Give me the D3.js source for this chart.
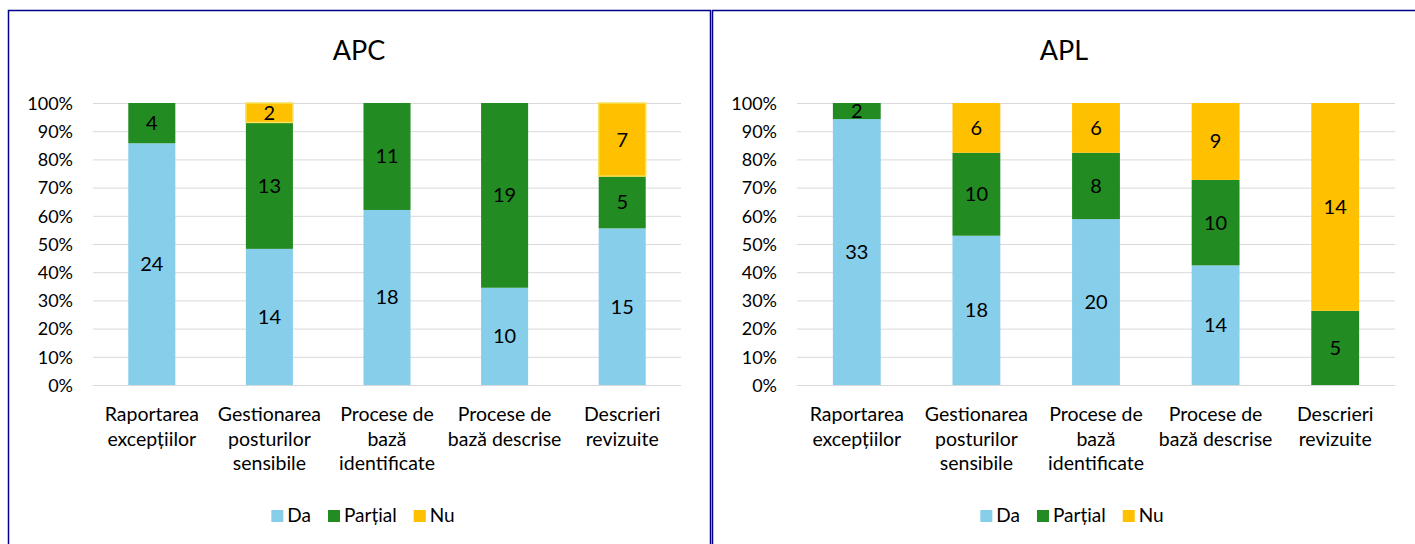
<!DOCTYPE html>
<html>
<head>
<meta charset="utf-8">
<script src="https://cdn.jsdelivr.net/npm/d3@7"></script>
<style>
body { margin: 0; background: #fff; }
svg { display: block; font-family: Lato, "Open Sans", sans-serif; }
.grid line { stroke: #d9d9d9; stroke-width: 1; }
.grid text { fill: #000; font-size: 18px; font-family: Lato, sans-serif; }
.cat { font-size: 19.5px; fill: #000; }
.seglabel { font-size: 20px; fill: #000; }
.legend text { font-size: 19px; fill: #000; }
</style>
</head>
<body>
<div id="chart"></div>
<script>
// categories are split into the lines they wrap to in the original
var categories = [
  ["Raportarea", "excepțiilor"],
  ["Gestionarea", "posturilor", "sensibile"],
  ["Procese de", "bază", "identificate"],
  ["Procese de", "bază descrise"],
  ["Descrieri", "revizuite"]
];
var series = ["Da", "Parțial", "Nu"];
var seriesColors = ["#87ceeb", "#228b22", "#ffc000"];
var yTicks = [0, 0.1, 0.2, 0.3, 0.4, 0.5, 0.6, 0.7, 0.8, 0.9, 1];

var apcDa = [24, 14, 18, 10, 15];
var apcPartial = [4, 13, 11, 19, 5];
var apcNu = [0, 2, 0, 0, 7];

var aplDa = [33, 18, 20, 14, 0];
var aplPartial = [2, 10, 8, 10, 5];
var aplNu = [0, 6, 6, 9, 14];

var W = 1415, H = 544;
var svg = d3.select('#chart').append('svg')
  .attr('width', W)
  .attr('height', H);

var color = d3.scaleOrdinal().domain(series).range(seriesColors);

function drawPanel(opt) {
  var g = svg.append('g');

  // panel frame (navy, open at the bottom)
  g.append('path')
    .attr('d', 'M' + opt.bx0 + ',' + H + 'V10.5H' + opt.bx1 + (opt.closeRight ? 'V' + H : ''))
    .attr('fill', 'none')
    .attr('stroke', '#00008b')
    .attr('stroke-width', 1.5);

  g.append('text')
    .attr('x', opt.titleX)
    .attr('y', 60)
    .attr('text-anchor', 'middle')
    .style('font-size', '27px')
    .text(opt.title);

  var x = d3.scaleBand()
    .domain(d3.range(categories.length))
    .range([opt.left, opt.right])
    .paddingInner(0.6)
    .paddingOuter(0.3);

  var y = d3.scaleLinear().domain([0, 1]).range([385, 103]);

  var yAxis = d3.axisLeft(y)
    .tickValues(yTicks)
    .tickFormat(d3.format('.0%'))
    .tickSize(-(opt.right - opt.left))
    .tickPadding(20);

  g.append('g')
    .attr('class', 'grid')
    .attr('transform', 'translate(' + opt.left + ',0)')
    .call(yAxis)
    .call(function(s){ s.select('.domain').remove(); })
    .selectAll('text').attr('dy', '0.35em');

  var rows = categories.map(function(c, i){
    return {i: i, "Da": opt.da[i], "Parțial": opt.partial[i], "Nu": opt.nu[i]};
  });
  var stack = d3.stack().keys(series).offset(d3.stackOffsetExpand);
  var layers = stack(rows);

  var lg = g.selectAll('.layer')
    .data(layers)
    .enter().append('g')
    .attr('class', 'layer')
    .attr('fill', function(d){ return color(d.key); });

  lg.selectAll('rect')
    .data(function(d){ return d; })
    .enter().append('rect')
    .attr('x', function(d){ return x(d.data.i); })
    .attr('width', x.bandwidth())
    .attr('y', function(d){ return y(d[1]); })
    .attr('height', function(d){ return y(d[0]) - y(d[1]); })
    .attr('stroke', function(){
      var k = d3.select(this.parentNode).datum().key;
      return (opt.nuStroke && k === 'Nu') ? '#f7e25c' : 'none';
    })
    .attr('stroke-width', 1.5);

  lg.selectAll('text')
    .data(function(d){
      var key = d.key;
      return d.filter(function(p){ return p.data[key] > 0; })
              .map(function(p){ return {p: p, v: p.data[key]}; });
    })
    .enter().append('text')
    .attr('class', 'seglabel')
    .attr('x', function(d){ return x(d.p.data.i) + x.bandwidth() / 2; })
    .attr('y', function(d){ return (y(d.p[0]) + y(d.p[1])) / 2; })
    .attr('dy', '0.35em')
    .attr('text-anchor', 'middle')
    .style('fill', '#000')
    .text(function(d){ return d.v; });

  // category labels
  var cg = g.selectAll('.cat')
    .data(categories)
    .enter().append('text')
    .attr('class', 'cat')
    .attr('text-anchor', 'middle')
    .attr('y', 421);
  cg.selectAll('tspan')
    .data(function(d, i){ return d.map(function(s){ return {s: s, i: i}; }); })
    .enter().append('tspan')
    .attr('x', function(d){ return x(d.i) + x.bandwidth() / 2; })
    .attr('dy', function(d, j){ return j === 0 ? 0 : 24.5; })
    .text(function(d){ return d.s; });

  // legend, centred under the panel
  var leg = g.append('g').attr('class', 'legend');
  var cx = 0;
  series.forEach(function(s, i){
    var it = leg.append('g').attr('transform', 'translate(' + cx + ',0)');
    it.append('rect')
      .attr('x', 0).attr('y', -12)
      .attr('width', 12).attr('height', 12)
      .attr('fill', color(s));
    var t = it.append('text').attr('x', 16).attr('y', 0).text(s);
    cx += 16 + t.node().getComputedTextLength() + 17;
  });
  var lw = cx - 17;
  leg.attr('transform', 'translate(' + (opt.legendX - lw / 2) + ',522)');
}

drawPanel({
  title: 'APC', titleX: 359,
  bx0: 8.5, bx1: 710.5, closeRight: true,
  left: 93, right: 681,
  da: apcDa, partial: apcPartial, nu: apcNu,
  nuStroke: true, legendX: 363
});

drawPanel({
  title: 'APL', titleX: 1064,
  bx0: 712.5, bx1: W + 2, closeRight: false,
  left: 797, right: 1395,
  da: aplDa, partial: aplPartial, nu: aplNu,
  nuStroke: false, legendX: 1072
});
</script>
</body>
</html>
